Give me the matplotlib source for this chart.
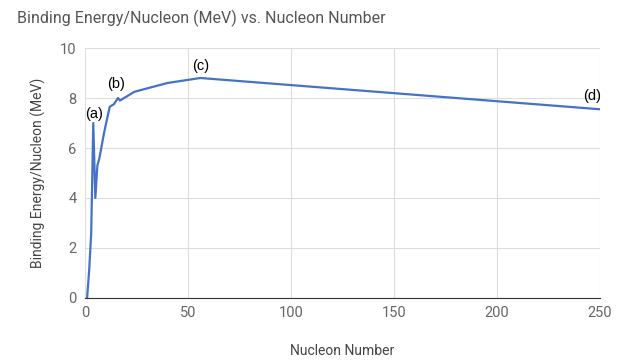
import matplotlib
matplotlib.use("Agg")
import matplotlib.pyplot as plt

plt.rcParams['font.family'] = ['Roboto', 'DejaVu Sans']

nucleons = [1, 2, 3, 4, 5, 6, 7, 9, 10, 12, 14, 16, 17, 18, 20, 24, 40, 56, 250]
energy = [0, 1.1, 2.6, 7.0, 4.0, 5.3, 5.6, 6.5, 6.9, 7.65, 7.75, 8.0, 7.9, 7.95, 8.05, 8.25, 8.6, 8.8, 7.55]

labels = ["(a)", "(b)", "(c)", "(d)"]
label_x = [4.4, 15, 56, 246.5]
label_y = [7.35, 8.55, 9.27, 8.07]

fig = plt.figure(figsize=(6.28, 3.62), dpi=100)
ax = fig.add_axes([0.1354, 0.1768, 0.8196, 0.6906])

ax.plot(nucleons, energy, color="#4472C4", linewidth=1.6)
for t, x, y in zip(labels, label_x, label_y):
    ax.text(x, y, t, ha="center", va="center", fontsize=10.5, color="#000000",
            family=["Liberation Sans", "DejaVu Sans"])

ax.set_xlim(0, 250)
ax.set_ylim(0, 10)
ax.set_xticks([0, 50, 100, 150, 200, 250])
ax.set_yticks([0, 2, 4, 6, 8, 10])
ax.grid(True, color="#dddddd", linewidth=0.8)
ax.set_axisbelow(True)
for s in ["top", "right", "left"]:
    ax.spines[s].set_visible(False)
ax.spines["bottom"].set_color("#333333")
ax.tick_params(length=0, labelsize=10.5, colors="#666666", pad=6)

ax.set_xlabel("Nucleon Number", fontsize=10, color="#444444", labelpad=17)
ax.set_ylabel("Binding Energy/Nucleon (MeV)", fontsize=10, color="#444444", labelpad=10)
fig.text(0.027, 0.95, "Binding Energy/Nucleon (MeV) vs. Nucleon Number", fontsize=11.5,
         color="#555555", ha="left", va="center")

fig.savefig("out.png", dpi=100)
